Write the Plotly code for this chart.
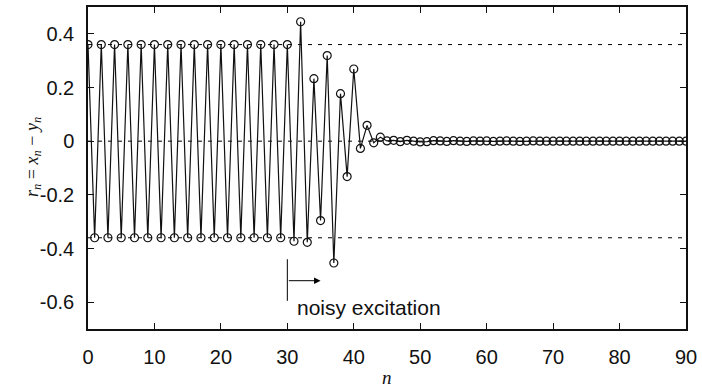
import plotly.graph_objects as go

# ---- data ----
n_values = list(range(0, 91))
r_values = [
    0.36, -0.36, 0.36, -0.36, 0.36, -0.36, 0.36, -0.36, 0.36, -0.36,   # 0-9
    0.36, -0.36, 0.36, -0.36, 0.36, -0.36, 0.36, -0.36, 0.36, -0.36,   # 10-19
    0.36, -0.36, 0.36, -0.36, 0.36, -0.36, 0.36, -0.36, 0.36, -0.36,   # 20-29
    0.36, -0.373, 0.445, -0.377, 0.233, -0.296, 0.319, -0.454, 0.177, -0.132,  # 30-39
    0.269, -0.027, 0.059, -0.006, 0.015, 0.001, 0.003, -0.002, 0.003, 0.0,     # 40-49
    -0.003, -0.002, 0.002, 0.001, -0.001, 0.002, 0.0, -0.001, 0.001, 0.0,      # 50-59
    0.001, -0.001, 0.0, 0.001, 0.0, -0.001, 0.0, 0.001, 0.0, 0.0,              # 60-69
    0.0, 0.0, 0.0, 0.0, 0.0, 0.0, 0.0, 0.0, 0.0, 0.0,                          # 70-79
    0.0, 0.0, 0.0, 0.0, 0.0, 0.0, 0.0, 0.0, 0.0, 0.0, 0.0,                     # 80-90
]
ref_levels = [0.36, 0.0, -0.36]
x_ticks = [0, 10, 20, 30, 40, 50, 60, 70, 80, 90]
y_ticks = [-0.6, -0.4, -0.2, 0, 0.2, 0.4]
y_tick_text = ["-0.6", "-0.4", "-0.2", "0", "0.2", "0.4"]
x_range = [0, 90]
y_range = [-0.7, 0.5]

# annotation geometry (in data units)
excite_n = 30
arrow_end_n = 35
arrow_y = -0.52
bar_y = [-0.44, -0.595]
label_y = -0.618

sans = "Liberation Sans, Arial, Helvetica, sans-serif"
serif = "Liberation Serif, Times New Roman, serif"

fig = go.Figure()

for lvl in ref_levels:
    fig.add_trace(go.Scatter(
        x=x_range, y=[lvl, lvl], mode="lines",
        line=dict(color="black", width=1, dash="4px,6px"),
        hoverinfo="skip", showlegend=False))

fig.add_trace(go.Scatter(
    x=n_values, y=r_values, mode="lines+markers",
    line=dict(color="#111", width=1.2),
    marker=dict(symbol="circle-open", size=8, color="#111", line=dict(width=1.2)),
    showlegend=False))

# vertical bar at onset of noisy excitation
fig.add_shape(type="line", x0=excite_n, x1=excite_n, y0=bar_y[0], y1=bar_y[1],
              xref="x", yref="y", line=dict(color="black", width=1))
fig.add_annotation(x=arrow_end_n, y=arrow_y, ax=excite_n, ay=arrow_y,
                   xref="x", yref="y", axref="x", ayref="y",
                   showarrow=True, arrowhead=2, arrowsize=1.3, arrowwidth=1,
                   arrowcolor="black", text="")
fig.add_annotation(x=excite_n + 1.1, y=label_y, xref="x", yref="y",
                   text="noisy excitation", showarrow=False, xanchor="left",
                   yanchor="middle", font=dict(family=sans, size=21, color="#111"))

# axis titles
fig.add_annotation(x=-0.0915, y=0.535, xref="paper", yref="paper",
                   xanchor="center", yanchor="middle",
                   text="<i>r</i><sub><i>n</i></sub> = <i>x</i><sub><i>n</i></sub> − <i>y</i><sub><i>n</i></sub>",
                   showarrow=False, textangle=-90,
                   font=dict(family=serif, size=18, color="#111"))
fig.add_annotation(x=0.5, y=-0.151, xref="paper", yref="paper",
                   xanchor="center", yanchor="middle",
                   text="<i>n</i>", showarrow=False,
                   font=dict(family=serif, size=19, color="#111"))

axis_common = dict(showgrid=False, zeroline=False, showline=True, linecolor="#111",
                   linewidth=1.5, mirror="ticks", ticks="inside", ticklen=6,
                   tickcolor="#111", tickwidth=1, ticklabeloverflow="allow",
                   tickfont=dict(family=sans, size=20, color="#111"))

fig.update_xaxes(range=x_range, tickvals=x_ticks, ticklabelstandoff=9, **axis_common)
fig.update_yaxes(range=y_range, tickvals=y_ticks, ticktext=y_tick_text,
                 ticklabelstandoff=8, **axis_common)

fig.update_layout(
    width=702, height=389,
    margin=dict(l=88, r=11, t=5, b=60),
    plot_bgcolor="white", paper_bgcolor="white",
)

fig.write_html("out.html", config={"displayModeBar": False},
               post_script="document.body.style.margin='0';document.body.style.overflow='hidden';")
